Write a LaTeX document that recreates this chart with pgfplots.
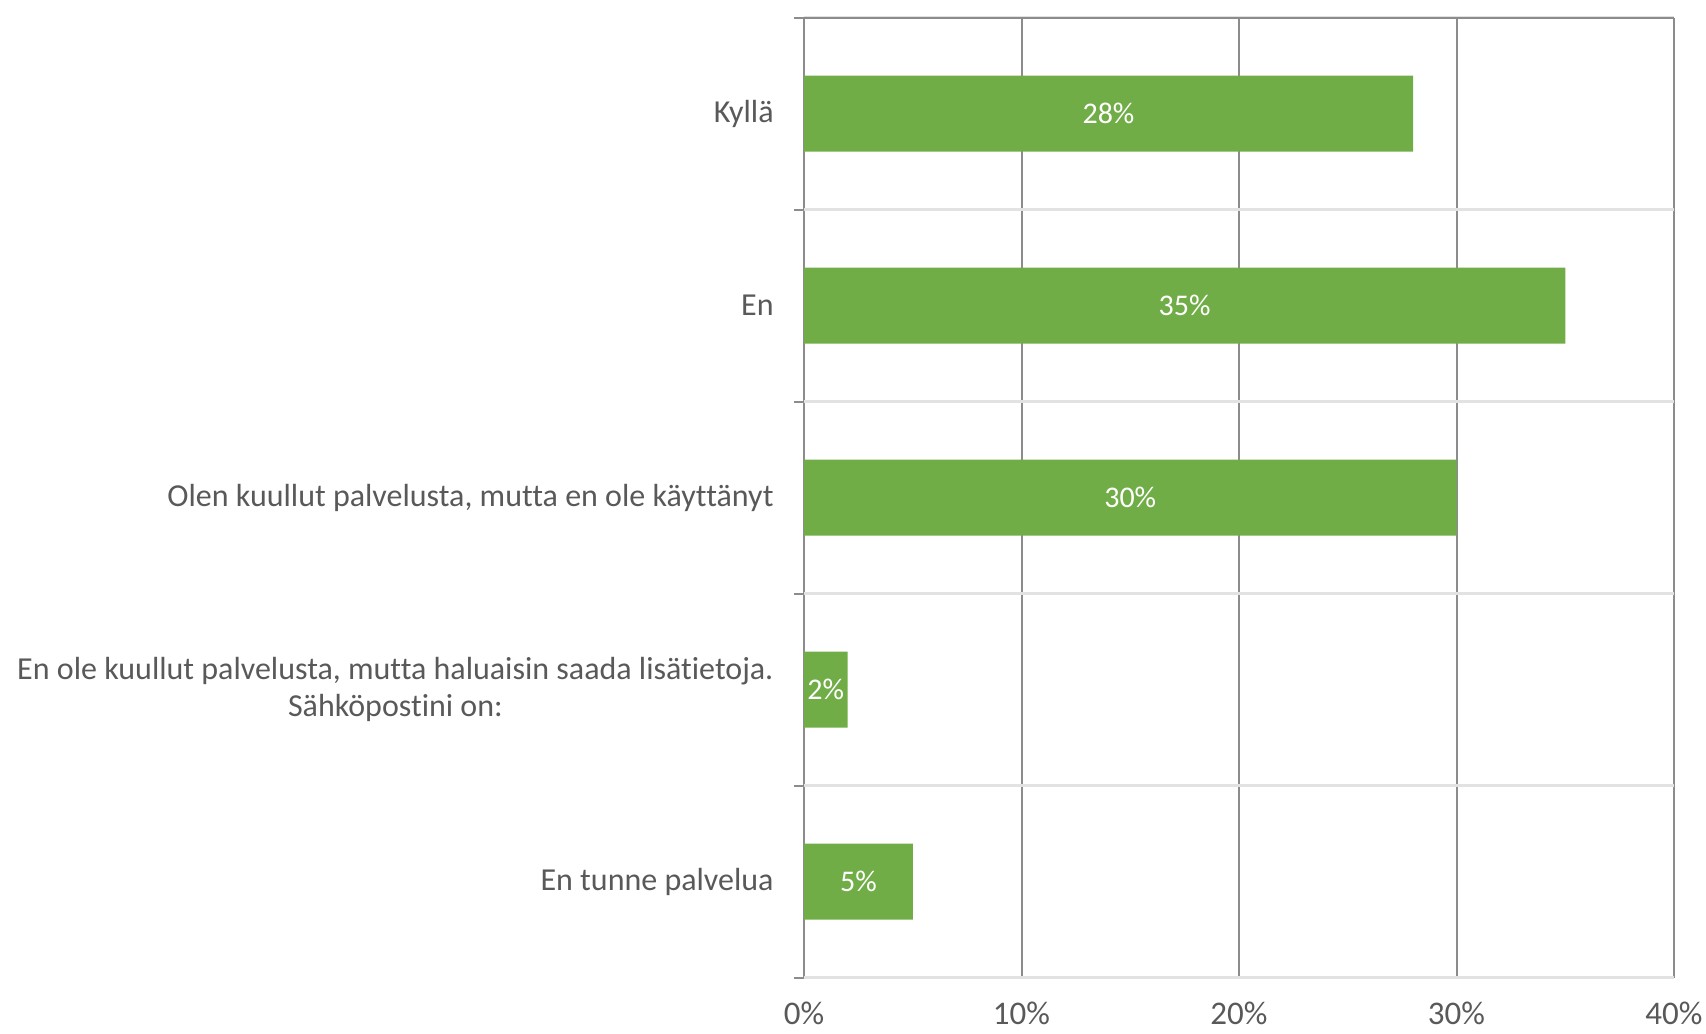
\documentclass[border=0pt]{standalone}
\usepackage{fontspec}
\setmainfont{Carlito}[Ligatures={NoCommon}]
\usepackage{pgfplots}
\pgfplotsset{compat=1.18}
\definecolor{bargreen}{HTML}{70AD47}
\definecolor{txtgray}{HTML}{595959}
\definecolor{gridgray}{HTML}{8C8C8C}
\definecolor{lightgrid}{HTML}{E2E2E2}
\begin{document}
\begin{tikzpicture}
\path[use as bounding box] (0,0) rectangle (853pt,516.5pt);
\begin{axis}[
  at={(402pt,27.75pt)}, anchor=south west,
  scale only axis, width=435pt, height=480pt,
  xmin=0, xmax=40, ymin=0.5, ymax=5.5, y dir=reverse,
  axis line style={draw=none},
  /pgf/number format/assume math mode=true,
  xtick={0,10,20,30,40},
  xticklabels={0\%,10\%,20\%,30\%,40\%},
  xmajorgrids, major x grid style={gridgray, line width=1pt},
  major tick length=0pt,
  major x tick style={draw=none},
  major y tick style={draw=none},
  ytick={1,2,3,4,5},
  yticklabels={Kyllä,En,{Olen kuullut palvelusta, mutta en ole käyttänyt},{En ole kuullut palvelusta, mutta haluaisin saada lisätietoja.\\Sähköpostini on:},En tunne palvelua},
  minor ytick={0.5,1.5,2.5,3.5,4.5,5.5},
  yminorgrids, minor y grid style={lightgrid, line width=1.25pt},
  minor y tick style={gridgray, line width=1pt},
  minor tick length=5pt,
  tick align=outside, ytick pos=left, xtick pos=bottom,
  yticklabel style={font=\fontsize{16}{18.5}\selectfont, text=txtgray, align=center, anchor=east, inner sep=0pt, xshift=-15pt},
  xticklabel style={font=\fontsize{16.5}{20}\selectfont, text=txtgray, anchor=north, inner sep=0pt, yshift=-12pt},
  point meta=x,
  visualization depends on={rawx \as \rawx},
  nodes near coords={\pgfmathprintnumber{\pgfplotspointmeta}\%},
  every node near coord/.append style={anchor=center, text=white, font=\fontsize{15}{18}\selectfont, xshift={-\rawx*5.4375pt}},
]
\addplot[xbar, fill=bargreen, draw=none, bar width=38pt] coordinates {(28,1) (35,2) (30,3) (2,4) (5,5)};
\draw[gridgray, line width=1pt] (axis cs:0,0.5) -- (axis cs:40,0.5);
\end{axis}
\end{tikzpicture}
\end{document}
